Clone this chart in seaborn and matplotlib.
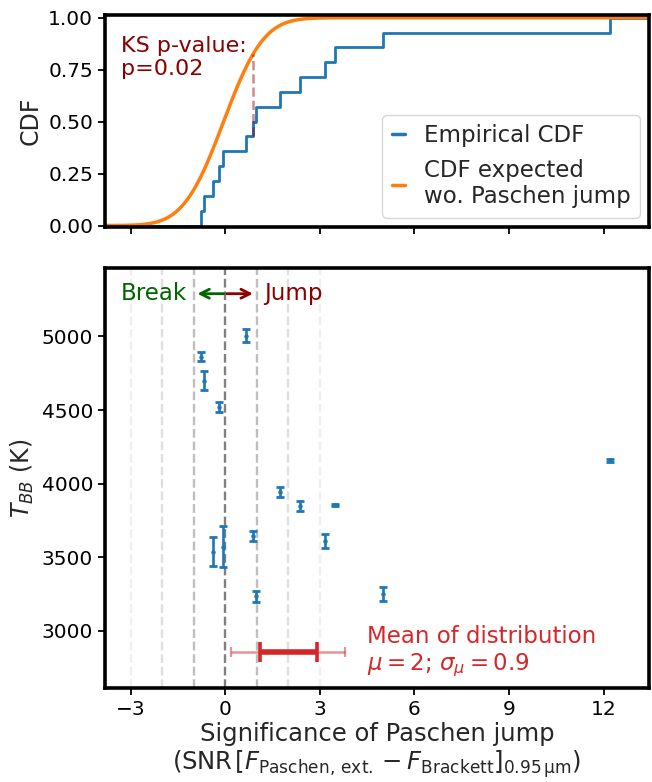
import math
import numpy as np
import pandas as pd
import matplotlib
matplotlib.use("Agg")
import matplotlib.pyplot as plt
import seaborn as sns

# ---------------- data ----------------
significance = [-0.76, -0.68, -0.37, -0.18, -0.07, 0.66, 0.88, 0.98,
                1.75, 2.37, 3.18, 3.48, 5.00, 12.19]
t_bb = [4863, 4698, 3538, 4522, 3572, 5005, 3644, 3234,
        3944, 3847, 3610, 3856, 3250, 4160]
t_bb_err = [30, 65, 100, 35, 140, 45, 33, 35,
            35, 35, 45, 8, 45, 10]

null_mean = -0.05    # expected significance without Paschen jump
null_sigma = 1.0
ks_pvalue = 0.02
ks_at = 0.88         # location of the KS maximum distance
dist_mu = 2.0
dist_sigma_mu = 0.9
mean_marker_T = 2857
ref_lines = [-3, -2, -1, 0, 1, 2, 3]
x_ticks = [-3, 0, 3, 6, 9, 12]

# ---------------- style ----------------
sns.set_style("white")
plt.rcParams["font.family"] = ["DejaVu Sans"]
plt.rcParams["mathtext.fontset"] = "dejavusans"

blue = "#1f77b4"
orange = "#ff7f0e"
red = "#d62728"

fig = plt.figure(figsize=(6.52, 7.82), dpi=100)
ax_top = fig.add_axes([0.161, 0.710, 0.834, 0.271])
ax = fig.add_axes([0.161, 0.120, 0.834, 0.537], sharex=ax_top)

xlim = (-3.81, 13.43)


def norm_cdf(v):
    return 0.5 * (1 + math.erf((v - null_mean) / (null_sigma * math.sqrt(2))))


# ---------------- top panel: CDFs ----------------
xs = np.sort(np.array(significance))
n = len(xs)
ecdf_x = np.concatenate([[xlim[0]], xs, [xlim[1]]])
ecdf_y = np.concatenate([[0.0], np.arange(1, n + 1) / n, [1.0]])
df_ecdf = pd.DataFrame({"x": ecdf_x, "y": ecdf_y})
sns.lineplot(data=df_ecdf, x="x", y="y", ax=ax_top, color=blue, lw=2,
             drawstyle="steps-post", label="Empirical CDF", estimator=None)

grid = np.linspace(xlim[0], xlim[1], 800)
df_null = pd.DataFrame({"x": grid, "y": [norm_cdf(g) for g in grid]})
sns.lineplot(data=df_null, x="x", y="y", ax=ax_top, color=orange, lw=2.5,
             label="CDF expected\nwo. Paschen jump", estimator=None)

# KS distance marker
ks_low = np.sum(xs < ks_at) / n
ax_top.plot([ks_at, ks_at], [ks_low, norm_cdf(ks_at)], ls="--", color="darkred",
            alpha=0.45, lw=1.8)

ax_top.text(-3.3, 0.81, f"KS p-value:\np={ks_pvalue:.2f}", color="darkred",
            fontsize=16, ha="left", va="center")

ax_top.set_ylim(-0.006, 1.014)
ax_top.set_yticks([0, 0.25, 0.5, 0.75, 1.0])
ax_top.set_ylabel("CDF", fontsize=17)
ax_top.set_xlabel("")
leg = ax_top.legend(loc="lower right", fontsize=16.5, handlelength=0.6,
                    frameon=True, fancybox=True, borderaxespad=0.4)
for line in leg.get_lines():
    line.set_linewidth(2.5)
plt.setp(ax_top.get_xticklabels(), visible=False)

# ---------------- bottom panel ----------------
for v in ref_lines:
    ax.axvline(v, color="grey", ls="--", lw=1.7, alpha=0.5 ** abs(v), zorder=0)

ax.errorbar(significance, t_bb, yerr=t_bb_err, fmt="o", ms=2.2, color=blue,
            ecolor=blue, elinewidth=1.9, capsize=3.2, capthick=2.0, zorder=3)

# mean of distribution
ax.errorbar([dist_mu], [mean_marker_T], xerr=[2 * dist_sigma_mu], fmt="none",
            ecolor=red, alpha=0.5, elinewidth=1.8, capsize=3.5, capthick=1.6)
ax.errorbar([dist_mu], [mean_marker_T], xerr=[dist_sigma_mu], fmt="none",
            ecolor=red, elinewidth=4, capsize=7, capthick=2.6)
ax.text(4.5, mean_marker_T, "Mean of distribution\n" + rf"$\mu = {dist_mu:g}$; $\sigma_\mu = {dist_sigma_mu}$",
        color=red, fontsize=16.5, ha="left", va="center")

# Break / Jump arrows
y_arrow = 5290
ax.annotate("", xy=(-0.88, y_arrow), xytext=(-0.05, y_arrow),
            arrowprops=dict(arrowstyle="->", color="darkgreen", lw=2, shrinkA=0, shrinkB=0,
                            mutation_scale=16))
ax.annotate("", xy=(0.88, y_arrow), xytext=(0.05, y_arrow),
            arrowprops=dict(arrowstyle="->", color="darkred", lw=2, shrinkA=0, shrinkB=0,
                            mutation_scale=16))
ax.text(-1.2, y_arrow, "Break", color="darkgreen", fontsize=16.5, ha="right", va="center")
ax.text(1.25, y_arrow, "Jump", color="darkred", fontsize=16.5, ha="left", va="center")

ax.set_xlim(*xlim)
ax.set_ylim(2611, 5463)
ax.set_xticks(x_ticks)
ax.set_xticklabels([f"{t}".replace("-", "\u2212") for t in x_ticks])
ax.set_yticks([3000, 3500, 4000, 4500, 5000])
ax.set_ylabel(r"$T_{BB}$ (K)", fontsize=17)
ax.set_xlabel("Significance of Paschen jump\n"
              r"(SNR$\,[F_{\mathrm{Paschen,\,ext.}} - F_{\mathrm{Brackett}}]_{0.95\,\mathrm{\mu m}}$)",
              fontsize=17.5, labelpad=2, linespacing=1.1)

for a in (ax_top, ax):
    for s in a.spines.values():
        s.set_linewidth(2.6)
        s.set_color("black")
    a.tick_params(axis="both", which="both", direction="out", length=5, width=1.3,
                  labelsize=14.5, bottom=True, left=True, colors="black")

fig.savefig("out.png", dpi=100)
